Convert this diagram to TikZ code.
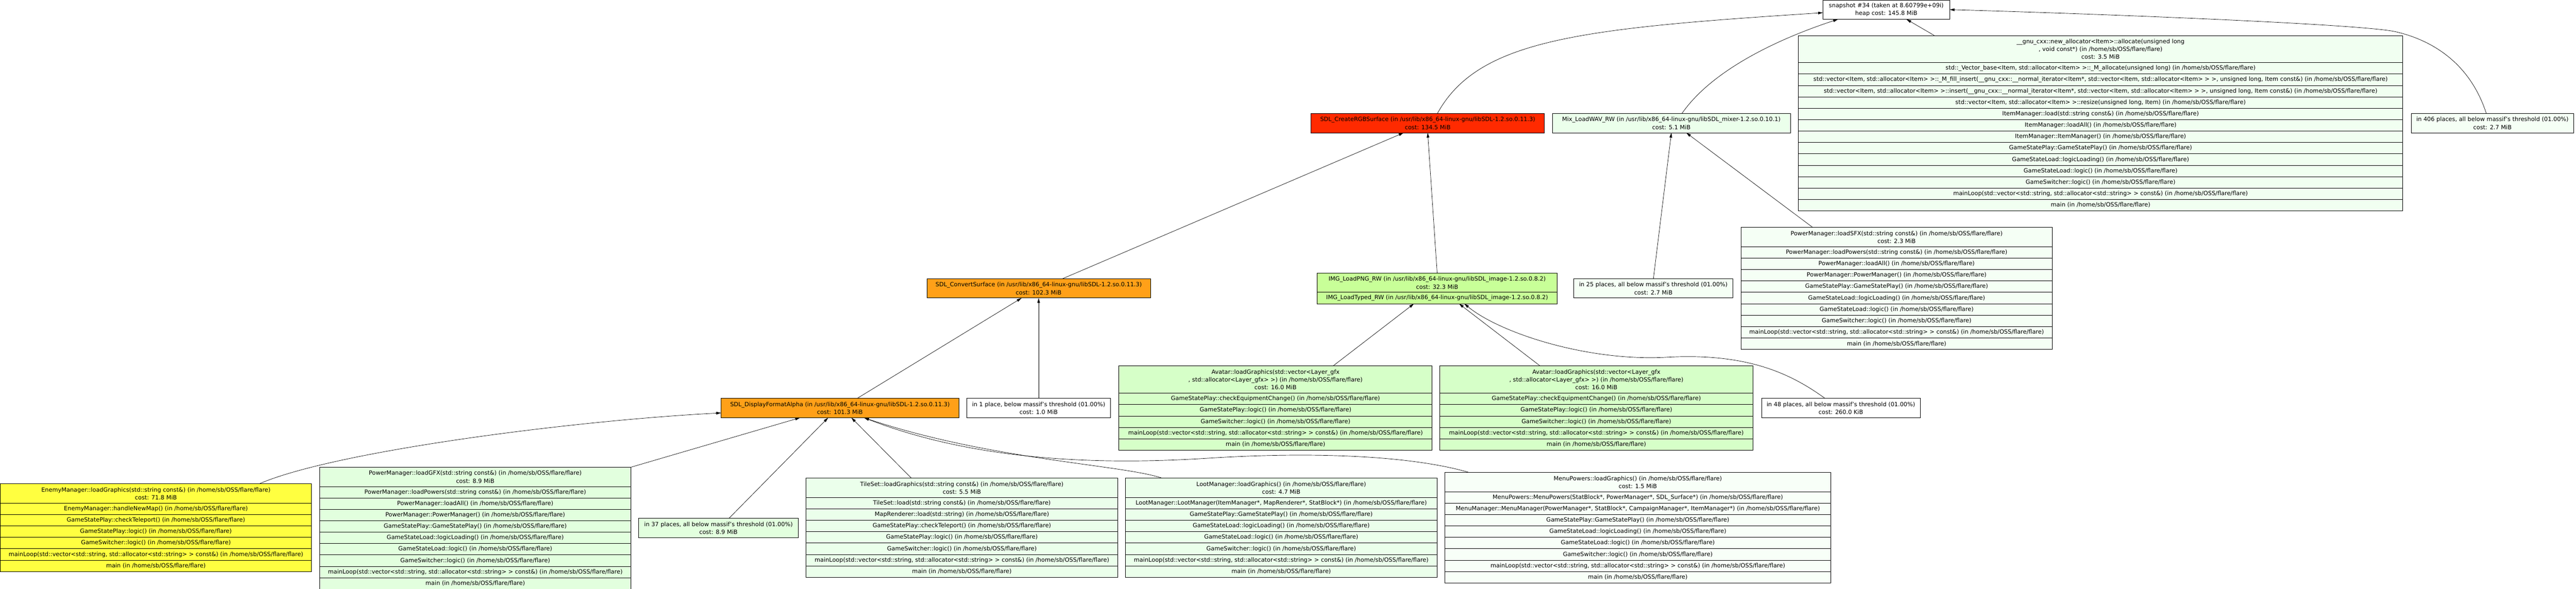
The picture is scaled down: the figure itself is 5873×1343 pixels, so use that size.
\documentclass[tikz,border=0pt]{standalone}
\usepackage{fontspec}
\setmainfont{DejaVu Sans}
\usetikzlibrary{arrows.meta}

\definecolor{hotred}{RGB}{255,42,0}
\definecolor{hotorange}{RGB}{255,160,24}
\definecolor{hotyellow}{RGB}{255,255,64}
\definecolor{limegreen}{RGB}{200,255,152}
\definecolor{avatargreen}{RGB}{214,255,200}
\definecolor{gfxgreen}{RGB}{226,255,222}
\definecolor{midgreen}{RGB}{235,255,235}
\definecolor{palegreen}{RGB}{241,255,241}
\definecolor{fadegreen}{RGB}{245,255,245}
\definecolor{faintgreen}{RGB}{248,255,248}

\newcommand{\flare}{(in /home/sb/OSS/flare/flare)}
\newcommand{\libdir}{/usr/lib/x86\_64-linux-gnu/}
\newcommand{\mainloop}{mainLoop(std::vector<std::string, std::allocator<std::string> > const\&) \flare}

% title part on top, one row per caller below it
\newcommand{\stackbox}[5]{%
	\node[frame, minimum height=44pt, #3, anchor=north] (#1) at #2 {#4};
	\coordinate (#1-0) at (#1.south);
	\foreach \row [count=\i, evaluate=\i as \j using int(\i-1)] in {#5} {
		\node[frame, #3, minimum height=26pt, anchor=north] (#1-\i) at (#1-\j.south) {\row};
	}
}

\begin{document}
\begin{tikzpicture}[x=1pt, y=-1pt,
	frame/.style={draw, line width=1pt, inner sep=2pt, outer sep=0pt, align=center, font=\fontsize{13.3}{18}\selectfont},
	link/.style={line width=0.8pt, -{Triangle[length=11pt, width=6pt]}}]
	\useasboundingbox (0,0) rectangle (5873,1343);

	\node[frame, fill=white, minimum width=289pt, minimum height=44pt] (snap) at (4300.5,22) {snapshot \#34 (taken at 8.60799e+09i)\\heap cost: 145.8 MiB};

	\node[frame, fill=hotred, minimum width=532pt, minimum height=44pt] (rgb) at (3255,281) {SDL\_CreateRGBSurface (in \libdir libSDL-1.2.so.0.11.3)\\cost: 134.5 MiB};
	\node[frame, fill=midgreen, minimum width=543pt, minimum height=44pt] (mix) at (3810.5,281) {Mix\_LoadWAV\_RW (in \libdir libSDL\_mixer-1.2.so.0.10.1)\\cost: 5.1 MiB};
	\node[frame, fill=fadegreen, minimum width=371pt, minimum height=44pt] (rest406) at (5682.5,281) {in 406 places, all below massif's threshold (01.00\%)\\cost: 2.7 MiB};

	\stackbox{items}{(4789,81)}{fill=palegreen, minimum width=1378pt, minimum height=62pt}
		{\_\_gnu\_cxx::new\_allocator<Item>::allocate(unsigned long\\, void const*) \flare\\cost: 3.5 MiB}
		{{std::\_Vector\_base<Item, std::allocator<Item> >::\_M\_allocate(unsigned long) \flare},
		 {std::vector<Item, std::allocator<Item> >::\_M\_fill\_insert(\_\_gnu\_cxx::\_\_normal\_iterator<Item*, std::vector<Item, std::allocator<Item> > >, unsigned long, Item const\&) \flare},
		 {std::vector<Item, std::allocator<Item> >::insert(\_\_gnu\_cxx::\_\_normal\_iterator<Item*, std::vector<Item, std::allocator<Item> > >, unsigned long, Item const\&) \flare},
		 {std::vector<Item, std::allocator<Item> >::resize(unsigned long, Item) \flare},
		 ItemManager::load(std::string const\&) \flare,
		 ItemManager::loadAll() \flare,
		 ItemManager::ItemManager() \flare,
		 GameStatePlay::GameStatePlay() \flare,
		 GameStateLoad::logicLoading() \flare,
		 GameStateLoad::logic() \flare,
		 GameSwitcher::logic() \flare,
		 \mainloop,
		 main \flare}

	\node[frame, fill=hotorange, minimum width=510pt, minimum height=44pt] (cvt) at (2368,658) {SDL\_ConvertSurface (in \libdir libSDL-1.2.so.0.11.3)\\cost: 102.3 MiB};
	\stackbox{png}{(3276.5,623)}{fill=limegreen, minimum width=547pt}
		{IMG\_LoadPNG\_RW (in \libdir libSDL\_image-1.2.so.0.8.2)\\cost: 32.3 MiB}
		{IMG\_LoadTyped\_RW (in \libdir libSDL\_image-1.2.so.0.8.2)}
	\node[frame, fill=fadegreen, minimum width=363pt, minimum height=44pt] (rest25) at (3769.5,658) {in 25 places, all below massif's threshold (01.00\%)\\cost: 2.7 MiB};

	\stackbox{sfx}{(4324,519)}{fill=fadegreen, minimum width=710pt}
		{PowerManager::loadSFX(std::string const\&) \flare\\cost: 2.3 MiB}
		{PowerManager::loadPowers(std::string const\&) \flare,
		 PowerManager::loadAll() \flare,
		 PowerManager::PowerManager() \flare,
		 GameStatePlay::GameStatePlay() \flare,
		 GameStateLoad::logicLoading() \flare,
		 GameStateLoad::logic() \flare,
		 GameSwitcher::logic() \flare,
		 \mainloop,
		 main \flare}

	\stackbox{avatarA}{(2908,835)}{fill=avatargreen, minimum width=714pt, minimum height=62pt}
		{Avatar::loadGraphics(std::vector<Layer\_gfx\\, std::allocator<Layer\_gfx> >) \flare\\cost: 16.0 MiB}
		{GameStatePlay::checkEquipmentChange() \flare,
		 GameStatePlay::logic() \flare,
		 GameSwitcher::logic() \flare,
		 \mainloop,
		 main \flare}
	\stackbox{avatarB}{(3639.5,835)}{fill=avatargreen, minimum width=715pt, minimum height=62pt}
		{Avatar::loadGraphics(std::vector<Layer\_gfx\\, std::allocator<Layer\_gfx> >) \flare\\cost: 16.0 MiB}
		{GameStatePlay::checkEquipmentChange() \flare,
		 GameStatePlay::logic() \flare,
		 GameSwitcher::logic() \flare,
		 \mainloop,
		 main \flare}
	\node[frame, fill=white, minimum width=362pt, minimum height=44pt] (rest48) at (4197,931) {in 48 places, all below massif's threshold (01.00\%)\\cost: 260.0 KiB};

	\node[frame, fill=hotorange, minimum width=542pt, minimum height=44pt] (dfa) at (1915,931) {SDL\_DisplayFormatAlpha (in \libdir libSDL-1.2.so.0.11.3)\\cost: 101.3 MiB};
	\node[frame, fill=white, minimum width=328pt, minimum height=44pt] (rest1) at (2368,931) {in 1 place, below massif's threshold (01.00\%)\\cost: 1.0 MiB};

	\stackbox{enemy}{(355.5,1104)}{fill=hotyellow, minimum width=710pt}
		{EnemyManager::loadGraphics(std::string const\&) \flare\\cost: 71.8 MiB}
		{EnemyManager::handleNewMap() \flare,
		 GameStatePlay::checkTeleport() \flare,
		 GameStatePlay::logic() \flare,
		 GameSwitcher::logic() \flare,
		 \mainloop,
		 main \flare}
	\stackbox{gfx}{(1083.5,1066)}{fill=gfxgreen, minimum width=709pt}
		{PowerManager::loadGFX(std::string const\&) \flare\\cost: 8.9 MiB}
		{PowerManager::loadPowers(std::string const\&) \flare,
		 PowerManager::loadAll() \flare,
		 PowerManager::PowerManager() \flare,
		 GameStatePlay::GameStatePlay() \flare,
		 GameStateLoad::logicLoading() \flare,
		 GameStateLoad::logic() \flare,
		 GameSwitcher::logic() \flare,
		 \mainloop,
		 main \flare}
	\node[frame, fill=gfxgreen, minimum width=364pt, minimum height=44pt] (rest37) at (1638,1204.5) {in 37 places, all below massif's threshold (01.00\%)\\cost: 8.9 MiB};
	\stackbox{tiles}{(2193,1091)}{fill=midgreen, minimum width=710pt}
		{TileSet::loadGraphics(std::string const\&) \flare\\cost: 5.5 MiB}
		{TileSet::load(std::string const\&) \flare,
		 MapRenderer::load(std::string) \flare,
		 GameStatePlay::checkTeleport() \flare,
		 GameStatePlay::logic() \flare,
		 GameSwitcher::logic() \flare,
		 \mainloop,
		 main \flare}
	\stackbox{loot}{(2921,1091)}{fill=midgreen, minimum width=710pt}
		{LootManager::loadGraphics() \flare\\cost: 4.7 MiB}
		{{LootManager::LootManager(ItemManager*, MapRenderer*, StatBlock*) \flare},
		 GameStatePlay::GameStatePlay() \flare,
		 GameStateLoad::logicLoading() \flare,
		 GameStateLoad::logic() \flare,
		 GameSwitcher::logic() \flare,
		 \mainloop,
		 main \flare}
	\stackbox{menu}{(3734,1078)}{fill=faintgreen, minimum width=880pt}
		{MenuPowers::loadGraphics() \flare\\cost: 1.5 MiB}
		{{MenuPowers::MenuPowers(StatBlock*, PowerManager*, SDL\_Surface*) \flare},
		 {MenuManager::MenuManager(PowerManager*, StatBlock*, CampaignManager*, ItemManager*) \flare},
		 GameStatePlay::GameStatePlay() \flare,
		 GameStateLoad::logicLoading() \flare,
		 GameStateLoad::logic() \flare,
		 GameSwitcher::logic() \flare,
		 \mainloop,
		 main \flare}

	\draw[link] ([xshift=22pt]rgb.north) .. controls (3370,90) and (3600,65) .. ([yshift=-7pt]snap.west);
	\draw[link] ([xshift=24pt]mix.north) .. controls (3910,150) and (4080,80) .. ([xshift=-110pt]snap.south);
	\draw[link] ([xshift=-379pt]items.north) -- ([xshift=46pt]snap.south);
	\draw[link] ([xshift=-14pt]rest406.north) .. controls (5630,140) and (5540,90) .. (5460,72) .. controls (5380,55) and (4800,32) .. (snap.east);

	\draw[link] ([xshift=54pt]cvt.north) -- ([xshift=-55pt]rgb.south);
	\draw[link] (png.north) -- (rgb.south);
	\draw[link] (rest25.north) -- (mix.south);
	\draw[link] ([xshift=-191pt]sfx.north) -- ([xshift=34pt]mix.south);

	\draw[link] ([xshift=39pt]dfa.north) -- ([xshift=-39pt]cvt.south);
	\draw[link] (rest1.north) -- (cvt.south);
	\draw[link] ([xshift=131pt]avatarA.north) -- ([xshift=-53pt]png-1.south);
	\draw[link] ([xshift=-128pt]avatarB.north) -- ([xshift=50pt]png-1.south);
	\draw[link] ([xshift=-36pt]rest48.north) .. controls (4080,850) and (3980,805) .. (3800,815) .. controls (3620,825) and (3420,760) .. ([xshift=62pt]png-1.south);

	\draw[link] ([xshift=235pt]enemy.north) .. controls (760,1030) and (1300,960) .. ([yshift=-11pt]dfa.west);
	\draw[link] (gfx.north east) -- ([xshift=-91pt]dfa.south);
	\draw[link] ([xshift=24pt]rest37.north) -- ([xshift=-27pt]dfa.south);
	\draw[link] ([xshift=-115pt]tiles.north) -- ([xshift=26pt]dfa.south);
	\draw[link] ([xshift=-271pt]loot.north) .. controls (2560,1060) and (2260,1050) .. ([xshift=55pt]dfa.south);
	\draw[link] ([xshift=-384pt]menu.north) .. controls (3220,1040) and (3000,1030) .. (2760,1045) .. controls (2560,1058) and (2250,1062) .. ([xshift=55pt]dfa.south);
\end{tikzpicture}
\end{document}
